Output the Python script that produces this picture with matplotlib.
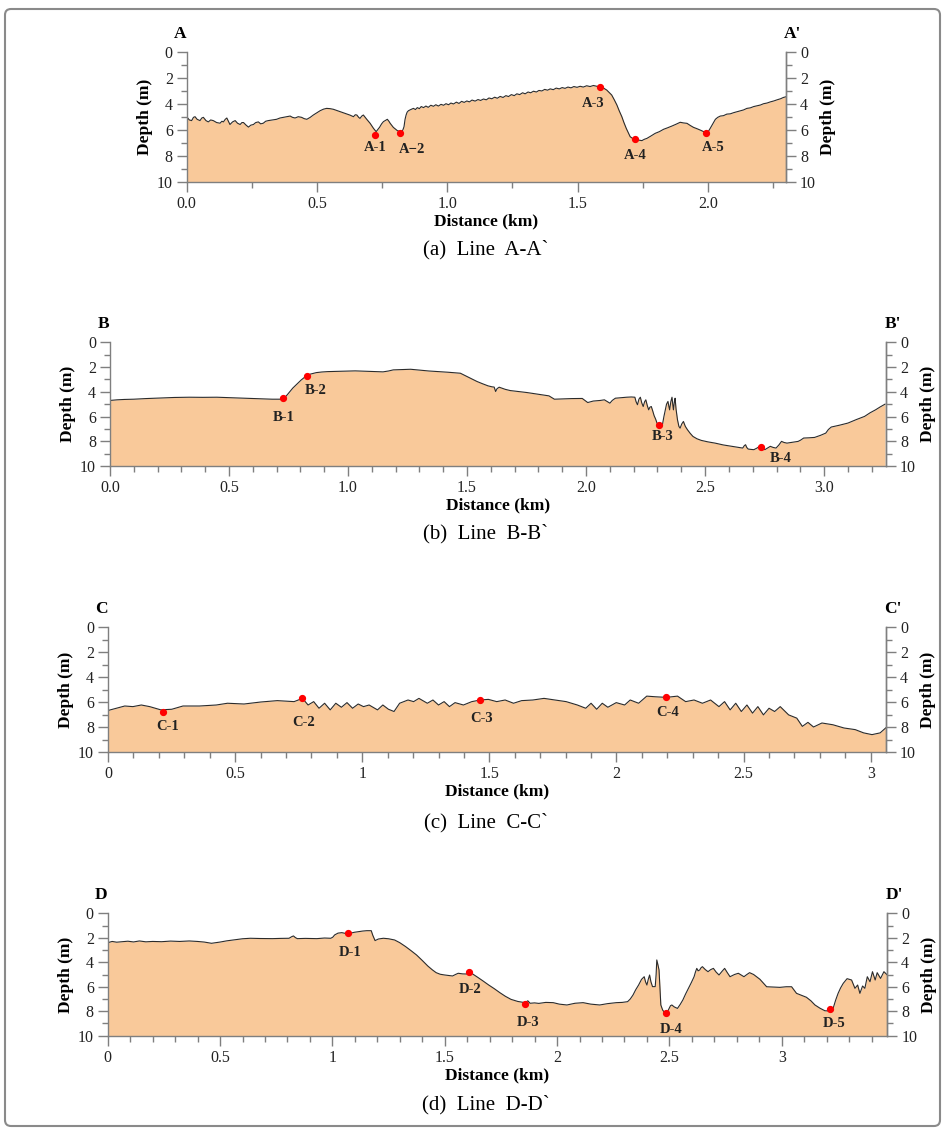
import numpy as np
import matplotlib
matplotlib.use('Agg')
import matplotlib.pyplot as plt
from matplotlib.patches import FancyBboxPatch
from matplotlib.ticker import MultipleLocator, FormatStrFormatter, FuncFormatter

plt.rcParams['font.family'] = ['Liberation Serif', 'DejaVu Serif']

# ---- profile A-A' (distance km, depth m) ----
a_km = [0.000, 0.010, 0.019, 0.026, 0.032, 0.040, 0.051, 0.058, 0.064, 0.074, 0.083, 0.092, 0.102, 0.115,
        0.128, 0.135, 0.141, 0.148, 0.154, 0.160, 0.166, 0.176, 0.186, 0.195, 0.205, 0.212, 0.218, 0.228,
        0.237, 0.246, 0.256, 0.265, 0.275, 0.284, 0.294, 0.303, 0.313, 0.330, 0.345, 0.358, 0.371, 0.384,
        0.397, 0.406, 0.416, 0.428, 0.441, 0.451, 0.461, 0.474, 0.486, 0.499, 0.512, 0.525, 0.537, 0.550,
        0.563, 0.576, 0.589, 0.602, 0.614, 0.627, 0.640, 0.647, 0.653, 0.660, 0.665, 0.672, 0.678, 0.685,
        0.691, 0.704, 0.717, 0.727, 0.733, 0.740, 0.748, 0.755, 0.762, 0.770, 0.776, 0.781, 0.793, 0.801,
        0.809, 0.817, 0.825, 0.830, 0.834, 0.838, 0.842, 0.846, 0.851, 0.860, 0.870, 0.878, 0.885, 0.893,
        0.900, 0.909, 0.918, 0.927, 0.937, 0.947, 0.956, 0.966, 0.976, 0.986, 0.995, 1.005, 1.014, 1.024,
        1.035, 1.045, 1.055, 1.065, 1.075, 1.085, 1.095, 1.107, 1.118, 1.128, 1.139, 1.150, 1.160, 1.171,
        1.182, 1.192, 1.203, 1.214, 1.225, 1.235, 1.246, 1.257, 1.267, 1.278, 1.289, 1.299, 1.310, 1.320,
        1.331, 1.342, 1.352, 1.363, 1.374, 1.385, 1.395, 1.407, 1.418, 1.430, 1.441, 1.452, 1.463, 1.475,
        1.486, 1.498, 1.510, 1.522, 1.535, 1.548, 1.561, 1.574, 1.587, 1.600, 1.612, 1.622, 1.631, 1.641,
        1.651, 1.660, 1.670, 1.678, 1.687, 1.695, 1.702, 1.712, 1.721, 1.734, 1.747, 1.756, 1.766, 1.782,
        1.798, 1.814, 1.830, 1.846, 1.862, 1.878, 1.894, 1.907, 1.920, 1.933, 1.945, 1.958, 1.971, 1.984,
        1.996, 2.003, 2.009, 2.019, 2.029, 2.038, 2.048, 2.060, 2.073, 2.086, 2.099, 2.112, 2.125, 2.137,
        2.150, 2.163, 2.176, 2.189, 2.202, 2.214, 2.227, 2.240, 2.253, 2.266, 2.279, 2.290, 2.301]
a_depth = [5.00, 5.25, 5.30, 5.05, 5.00, 5.20, 5.30, 5.10, 5.05, 5.30, 5.40, 5.25, 5.30, 5.45,
           5.50, 5.35, 5.40, 5.20, 5.10, 5.35, 5.60, 5.40, 5.30, 5.50, 5.60, 5.45, 5.45, 5.65,
           5.80, 5.65, 5.60, 5.45, 5.40, 5.55, 5.50, 5.35, 5.30, 5.25, 5.20, 5.10, 5.05, 5.00,
           4.95, 5.05, 5.10, 5.00, 5.05, 5.15, 5.20, 5.05, 4.87, 4.70, 4.54, 4.42, 4.36, 4.38,
           4.43, 4.52, 4.61, 4.70, 4.79, 4.88, 5.00, 4.85, 4.87, 5.05, 5.13, 4.95, 4.87, 5.05,
           5.20, 5.51, 5.90, 6.15, 6.00, 5.82, 5.55, 5.38, 5.30, 5.20, 5.35, 5.51, 5.82, 5.95,
           6.08, 6.12, 6.15, 6.00, 5.77, 5.20, 4.87, 4.65, 4.54, 4.45, 4.36, 4.45, 4.30, 4.38,
           4.22, 4.30, 4.18, 4.28, 4.12, 4.20, 4.08, 4.18, 4.05, 4.12, 4.00, 4.08, 3.95, 4.02,
           3.88, 3.98, 3.82, 3.90, 3.79, 3.86, 3.72, 3.80, 3.68, 3.75, 3.64, 3.70, 3.56, 3.62,
           3.50, 3.58, 3.44, 3.52, 3.38, 3.45, 3.30, 3.38, 3.24, 3.30, 3.16, 3.24, 3.10, 3.16,
           3.04, 3.10, 2.98, 3.02, 2.90, 2.96, 2.86, 2.92, 2.80, 2.86, 2.76, 2.82, 2.72, 2.78,
           2.68, 2.74, 2.66, 2.72, 2.62, 2.68, 2.60, 2.66, 2.68, 2.80, 2.95, 3.15, 3.33, 3.70,
           4.10, 4.55, 5.00, 5.45, 5.90, 6.25, 6.54, 6.68, 6.74, 6.80, 6.84, 6.74, 6.67, 6.48,
           6.28, 6.15, 5.97, 5.85, 5.72, 5.58, 5.43, 5.48, 5.51, 5.68, 5.82, 5.92, 6.03, 6.15,
           6.28, 6.10, 5.90, 5.55, 5.20, 5.05, 4.95, 4.92, 4.80, 4.78, 4.69, 4.62, 4.55, 4.48,
           4.36, 4.32, 4.22, 4.16, 4.10, 4.00, 3.95, 3.86, 3.79, 3.70, 3.62, 3.52, 3.46]
a_sites = ['A-1', 'A\u22122', 'A-3', 'A-4', 'A-5']
a_site_km = [0.723, 0.819, 1.587, 1.721, 1.992]
a_site_depth = [6.41, 6.28, 2.74, 6.69, 6.28]

# ---- profile B-B' ----
b_km = [0.000, 0.030, 0.060, 0.100, 0.150, 0.216, 0.270, 0.333, 0.390, 0.449, 0.510, 0.565, 0.620, 0.681,
        0.716, 0.728, 0.740, 0.751, 0.768, 0.786, 0.803, 0.821, 0.840, 0.867, 0.890, 0.914, 0.950, 0.990,
        1.030, 1.070, 1.110, 1.147, 1.170, 1.190, 1.230, 1.263, 1.300, 1.340, 1.379, 1.420, 1.472, 1.495,
        1.520, 1.542, 1.565, 1.588, 1.605, 1.614, 1.620, 1.626, 1.635, 1.660, 1.681, 1.715, 1.751, 1.800,
        1.844, 1.860, 1.867, 1.900, 1.940, 1.984, 1.995, 2.007, 2.030, 2.060, 2.077, 2.090, 2.100, 2.110,
        2.123, 2.150, 2.170, 2.190, 2.205, 2.210, 2.216, 2.222, 2.228, 2.234, 2.240, 2.246, 2.251, 2.257,
        2.263, 2.268, 2.274, 2.280, 2.286, 2.292, 2.298, 2.305, 2.313, 2.321, 2.327, 2.333, 2.338, 2.344,
        2.348, 2.351, 2.356, 2.361, 2.364, 2.367, 2.371, 2.374, 2.378, 2.384, 2.390, 2.395, 2.402, 2.409,
        2.417, 2.426, 2.437, 2.449, 2.466, 2.484, 2.512, 2.542, 2.577, 2.612, 2.635, 2.658, 2.665, 2.670,
        2.675, 2.681, 2.693, 2.705, 2.718, 2.733, 2.742, 2.751, 2.762, 2.774, 2.786, 2.798, 2.810, 2.821,
        2.832, 2.844, 2.867, 2.891, 2.902, 2.914, 2.937, 2.960, 2.985, 3.007, 3.018, 3.030, 3.065, 3.100,
        3.135, 3.170, 3.193, 3.216, 3.236, 3.256]
b_depth = [4.70, 4.65, 4.62, 4.60, 4.55, 4.50, 4.46, 4.44, 4.45, 4.44, 4.48, 4.52, 4.56, 4.60,
           4.60, 4.54, 4.35, 4.10, 3.70, 3.36, 3.05, 2.77, 2.58, 2.45, 2.40, 2.37, 2.35, 2.33,
           2.31, 2.34, 2.37, 2.39, 2.32, 2.23, 2.20, 2.18, 2.25, 2.32, 2.37, 2.42, 2.50, 2.72,
           2.95, 3.17, 3.35, 3.52, 3.60, 3.62, 3.98, 3.75, 3.63, 3.80, 3.90, 3.98, 4.06, 4.20,
           4.33, 4.52, 4.60, 4.58, 4.55, 4.54, 4.70, 4.87, 4.75, 4.70, 4.65, 4.80, 4.92, 4.70,
           4.52, 4.47, 4.44, 4.42, 4.44, 4.80, 5.05, 4.60, 4.44, 4.90, 5.19, 4.80, 4.65, 5.10,
           5.46, 5.25, 5.19, 5.55, 5.94, 6.20, 6.53, 6.72, 6.75, 6.64, 6.00, 5.46, 5.00, 4.78,
           5.20, 5.46, 4.80, 4.44, 5.00, 5.46, 4.80, 4.52, 5.40, 6.26, 6.80, 6.94, 6.60, 6.40,
           6.80, 7.07, 7.35, 7.61, 7.80, 7.93, 8.05, 8.15, 8.30, 8.41, 8.48, 8.55, 8.35, 8.28,
           8.50, 8.63, 8.66, 8.68, 8.55, 8.36, 8.55, 8.68, 8.55, 8.41, 8.50, 8.55, 8.30, 8.01,
           8.10, 8.15, 8.08, 8.01, 7.90, 7.74, 7.72, 7.69, 7.52, 7.34, 7.05, 6.85, 6.70, 6.53,
           6.25, 5.99, 5.70, 5.46, 5.22, 5.00]
b_sites = ['B-1', 'B-2', 'B-3', 'B-4']
b_site_km = [0.728, 0.826, 2.305, 2.733]
b_site_depth = [4.54, 2.69, 6.72, 8.49]

# ---- profile C-C' ----
c_km = [0.000, 0.033, 0.066, 0.098, 0.131, 0.164, 0.208, 0.251, 0.295, 0.360, 0.426, 0.470, 0.535, 0.601,
        0.666, 0.732, 0.765, 0.787, 0.809, 0.830, 0.852, 0.874, 0.896, 0.918, 0.940, 0.962, 0.984, 1.005,
        1.027, 1.060, 1.081, 1.103, 1.125, 1.147, 1.180, 1.202, 1.223, 1.256, 1.278, 1.300, 1.322, 1.343,
        1.365, 1.398, 1.431, 1.464, 1.496, 1.529, 1.562, 1.595, 1.627, 1.671, 1.715, 1.758, 1.802, 1.846,
        1.879, 1.900, 1.922, 1.944, 1.966, 1.999, 2.032, 2.054, 2.087, 2.119, 2.152, 2.196, 2.240, 2.272,
        2.305, 2.338, 2.370, 2.403, 2.425, 2.447, 2.469, 2.491, 2.513, 2.535, 2.556, 2.578, 2.600, 2.622,
        2.644, 2.677, 2.709, 2.731, 2.753, 2.775, 2.808, 2.851, 2.895, 2.939, 2.972, 3.005, 3.037, 3.063]
c_depth = [6.68, 6.50, 6.32, 6.37, 6.24, 6.37, 6.63, 6.58, 6.32, 6.32, 6.24, 6.10, 6.16, 6.00,
           5.89, 5.97, 5.71, 6.24, 5.97, 6.50, 6.10, 6.63, 6.10, 6.42, 6.05, 6.50, 6.16, 6.37,
           6.24, 6.63, 6.24, 6.58, 6.76, 6.10, 5.84, 5.97, 5.71, 6.10, 5.84, 6.24, 5.97, 6.37,
           6.05, 6.24, 5.97, 5.84, 5.79, 5.97, 5.84, 6.10, 5.89, 5.84, 5.71, 5.84, 5.97, 6.24,
           6.50, 6.10, 6.58, 6.10, 6.42, 6.05, 6.24, 5.84, 6.10, 5.53, 5.58, 5.63, 5.53, 5.97,
           5.84, 6.10, 5.84, 6.37, 5.97, 6.63, 6.10, 6.76, 6.24, 6.89, 6.37, 7.03, 6.50, 6.76,
           6.37, 7.03, 7.29, 7.95, 7.63, 8.00, 7.68, 7.82, 8.08, 8.21, 8.47, 8.61, 8.47, 8.00]
c_sites = ['C-1', 'C-2', 'C-3', 'C-4']
c_site_km = [0.218, 0.765, 1.464, 2.196]
c_site_depth = [6.76, 5.71, 5.84, 5.63]

# ---- profile D-D' ----
d_km = [0.000, 0.020, 0.040, 0.067, 0.090, 0.115, 0.141, 0.170, 0.200, 0.240, 0.280, 0.320, 0.363, 0.400,
        0.430, 0.462, 0.500, 0.530, 0.560, 0.600, 0.635, 0.680, 0.733, 0.770, 0.807, 0.820, 0.827, 0.835,
        0.844, 0.880, 0.931, 0.965, 0.993, 1.002, 1.010, 1.025, 1.042, 1.060, 1.079, 1.098, 1.116, 1.135,
        1.153, 1.173, 1.180, 1.190, 1.205, 1.227, 1.250, 1.277, 1.300, 1.326, 1.350, 1.375, 1.400, 1.425,
        1.445, 1.462, 1.480, 1.500, 1.518, 1.535, 1.548, 1.560, 1.580, 1.598, 1.610, 1.628, 1.647, 1.670,
        1.696, 1.720, 1.746, 1.770, 1.795, 1.825, 1.857, 1.870, 1.880, 1.900, 1.919, 1.950, 1.983, 2.010,
        2.044, 2.080, 2.116, 2.150, 2.190, 2.225, 2.264, 2.290, 2.314, 2.326, 2.338, 2.350, 2.363, 2.376,
        2.388, 2.394, 2.400, 2.406, 2.412, 2.418, 2.425, 2.437, 2.441, 2.444, 2.449, 2.454, 2.458, 2.462,
        2.470, 2.481, 2.490, 2.499, 2.505, 2.511, 2.522, 2.536, 2.548, 2.560, 2.572, 2.585, 2.598, 2.610,
        2.616, 2.622, 2.628, 2.635, 2.641, 2.647, 2.660, 2.672, 2.684, 2.696, 2.708, 2.721, 2.734, 2.746,
        2.758, 2.770, 2.790, 2.807, 2.820, 2.832, 2.845, 2.857, 2.875, 2.903, 2.918, 2.933, 2.960, 2.992,
        3.020, 3.044, 3.066, 3.088, 3.110, 3.130, 3.148, 3.170, 3.192, 3.210, 3.229, 3.240, 3.251, 3.262,
        3.274, 3.291, 3.311, 3.326, 3.338, 3.348, 3.360, 3.370, 3.381, 3.393, 3.404, 3.416, 3.425, 3.440,
        3.455, 3.470]
d_depth = [2.40, 2.30, 2.36, 2.32, 2.28, 2.34, 2.26, 2.33, 2.30, 2.32, 2.27, 2.30, 2.26, 2.30,
           2.35, 2.45, 2.35, 2.25, 2.18, 2.08, 2.04, 2.06, 2.07, 2.05, 2.04, 1.90, 1.85, 1.98,
           2.07, 2.05, 2.07, 2.02, 2.04, 1.95, 1.77, 1.62, 1.58, 1.65, 1.63, 1.55, 1.50, 1.45,
           1.42, 1.42, 1.80, 2.23, 2.10, 2.04, 2.08, 2.18, 2.40, 2.72, 3.05, 3.41, 3.85, 4.31,
           4.62, 4.85, 4.98, 5.04, 5.08, 5.12, 5.00, 4.90, 4.95, 4.96, 4.77, 5.00, 5.23, 5.52,
           5.86, 6.15, 6.49, 6.78, 7.03, 7.20, 7.30, 7.15, 7.35, 7.32, 7.36, 7.28, 7.30, 7.42,
           7.49, 7.35, 7.30, 7.42, 7.49, 7.38, 7.30, 7.28, 7.22, 7.00, 6.68, 6.25, 5.86, 5.40,
           5.18, 5.60, 5.86, 5.40, 5.04, 5.60, 5.99, 5.99, 5.00, 3.81, 4.20, 4.63, 6.00, 7.49,
           7.90, 8.17, 8.10, 7.77, 7.55, 7.49, 7.65, 7.77, 7.45, 7.08, 6.60, 6.13, 5.65, 5.18,
           4.80, 4.50, 4.70, 4.63, 4.45, 4.36, 4.60, 4.77, 4.60, 4.50, 4.80, 5.04, 4.75, 4.50,
           4.85, 5.18, 5.00, 4.90, 5.05, 5.18, 5.00, 4.85, 5.00, 5.39, 5.70, 6.00, 6.02, 6.05,
           6.00, 6.00, 6.54, 6.70, 6.86, 7.15, 7.49, 7.75, 7.96, 7.98, 7.76, 7.10, 6.54, 6.10,
           5.72, 5.34, 5.45, 6.13, 5.86, 6.54, 5.94, 6.13, 5.18, 5.59, 4.77, 5.45, 4.85, 5.32,
           4.77, 5.04]
d_sites = ['D-1', 'D-2', 'D-3', 'D-4', 'D-5']
d_site_km = [1.069, 1.610, 1.857, 2.486, 3.215]
d_site_depth = [1.63, 4.77, 7.41, 8.12, 7.84]

# label placement below each point (km, m) - layout only
a_lab_off = [(0.000, 0.97), (0.045, 1.22), (-0.027, 1.23), (0.000, 1.31), (0.029, 1.07)]
b_lab_off = [(0.000, 1.54), (0.037, 1.23), (0.016, 0.88), (0.083, 0.89)]
c_lab_off = [(0.018, 1.24), (0.006, 1.92), (0.004, 1.45), (0.006, 1.21)]
d_lab_off = [(0.010, 1.59), (0.002, 1.42), (0.015, 1.53), (0.020, 1.36), (0.017, 1.15)]

W, H = 953, 1131
fig = plt.figure(figsize=(W / 100, H / 100), dpi=100)

FILL = '#F9C99A'
GREY = '#7f7f7f'


def fx(px):
    return px / W


def fy(py):
    return 1 - py / H


def depth_axis(ax):
    # shared styling for the left and right depth scales
    ax.set_ylim(10, 0)
    ax.yaxis.set_major_locator(MultipleLocator(2))
    ax.yaxis.set_minor_locator(MultipleLocator(1))
    ax.spines['top'].set_visible(False)
    for s in ['left', 'right', 'bottom']:
        ax.spines[s].set_color(GREY)
        ax.spines[s].set_linewidth(1.0)
    ax.tick_params(which='both', direction='out', color=GREY, labelcolor='#222222',
                   labelsize=11.5, width=1.0)
    ax.tick_params(which='major', length=7, pad=3)
    ax.tick_params(which='minor', length=4)
    ax.set_ylabel('Depth (m)', fontsize=12.5, fontweight='bold', labelpad=3)


def profile(rect, km, depth, xmax, minor, fmt, tag, sites, s_km, s_dep, offs):
    ax = fig.add_axes(rect)
    ax.fill_between(km, depth, 10, color=FILL, lw=0)
    ax.plot(km, depth, color='#2b2b2b', lw=0.8)
    ax.plot(s_km, s_dep, 'o', color='red', ms=4.2, mec='red', zorder=5)
    for name, x, y, (dx, dy) in zip(sites, s_km, s_dep, offs):
        ax.text(x + dx, y + dy, name, ha='center', va='center', fontsize=10.5,
                fontweight='bold', color='#222222')
    ax.set_xlim(0, xmax)
    ax.xaxis.set_major_locator(MultipleLocator(0.5))
    ax.xaxis.set_minor_locator(MultipleLocator(minor))
    ax.xaxis.set_major_formatter(fmt)
    ax.set_xlabel('Distance (km)', fontsize=12.5, fontweight='bold', labelpad=1)
    ax2 = ax.twinx()
    depth_axis(ax)
    depth_axis(ax2)
    ax2.spines['left'].set_visible(False)
    ax2.spines['bottom'].set_visible(False)
    ax2.yaxis.set_label_position('right')
    ax.annotate(tag, xy=(0, 1), xycoords='axes fraction', xytext=(-5, 13), textcoords='offset points',
                ha='center', va='center', fontsize=12.5, fontweight='bold')
    ax.annotate(tag + "'", xy=(1, 1), xycoords='axes fraction', xytext=(5, 13), textcoords='offset points',
                ha='center', va='center', fontsize=12.5, fontweight='bold')
    return ax


one_dec = FormatStrFormatter('%.1f')
plain = FuncFormatter(lambda v, p: ('%g' % v))

profile([fx(186.7), fy(181.7), fx(786 - 186.7), (181.7 - 51.7) / H], a_km, a_depth, 2.30, 0.25, one_dec,
        'A', a_sites, a_site_km, a_site_depth, a_lab_off)
profile([fx(110), fy(466), fx(886 - 110), (466 - 342.3) / H], b_km, b_depth, 3.26, 0.1, one_dec,
        'B', b_sites, b_site_km, b_site_depth, b_lab_off)
profile([fx(108), fy(752), fx(886 - 108), (752 - 627) / H], c_km, c_depth, 3.06, 0.1, plain,
        'C', c_sites, c_site_km, c_site_depth, c_lab_off)
profile([fx(107.7), fy(1035.7), fx(887.3 - 107.7), (1035.7 - 913.3) / H], d_km, d_depth, 3.47, 0.1, plain,
        'D', d_sites, d_site_km, d_site_depth, d_lab_off)

captions = ['(a)  Line  A-A`', '(b)  Line  B-B`', '(c)  Line  C-C`', '(d)  Line  D-D`']
caption_y = [250, 534, 823, 1105]
for txt, y in zip(captions, caption_y):
    fig.text(fx(486), fy(y), txt, ha='center', va='center', fontsize=15)

# grey rounded frame around the whole figure
frame = FancyBboxPatch((0.05, 0.05), 9.35, 11.17, boxstyle='round,pad=0,rounding_size=0.06',
                       transform=fig.dpi_scale_trans, fill=False, ec='#8a8a8a', lw=1.5)
fig.patches.append(frame)

fig.savefig('out.png', dpi=100)
